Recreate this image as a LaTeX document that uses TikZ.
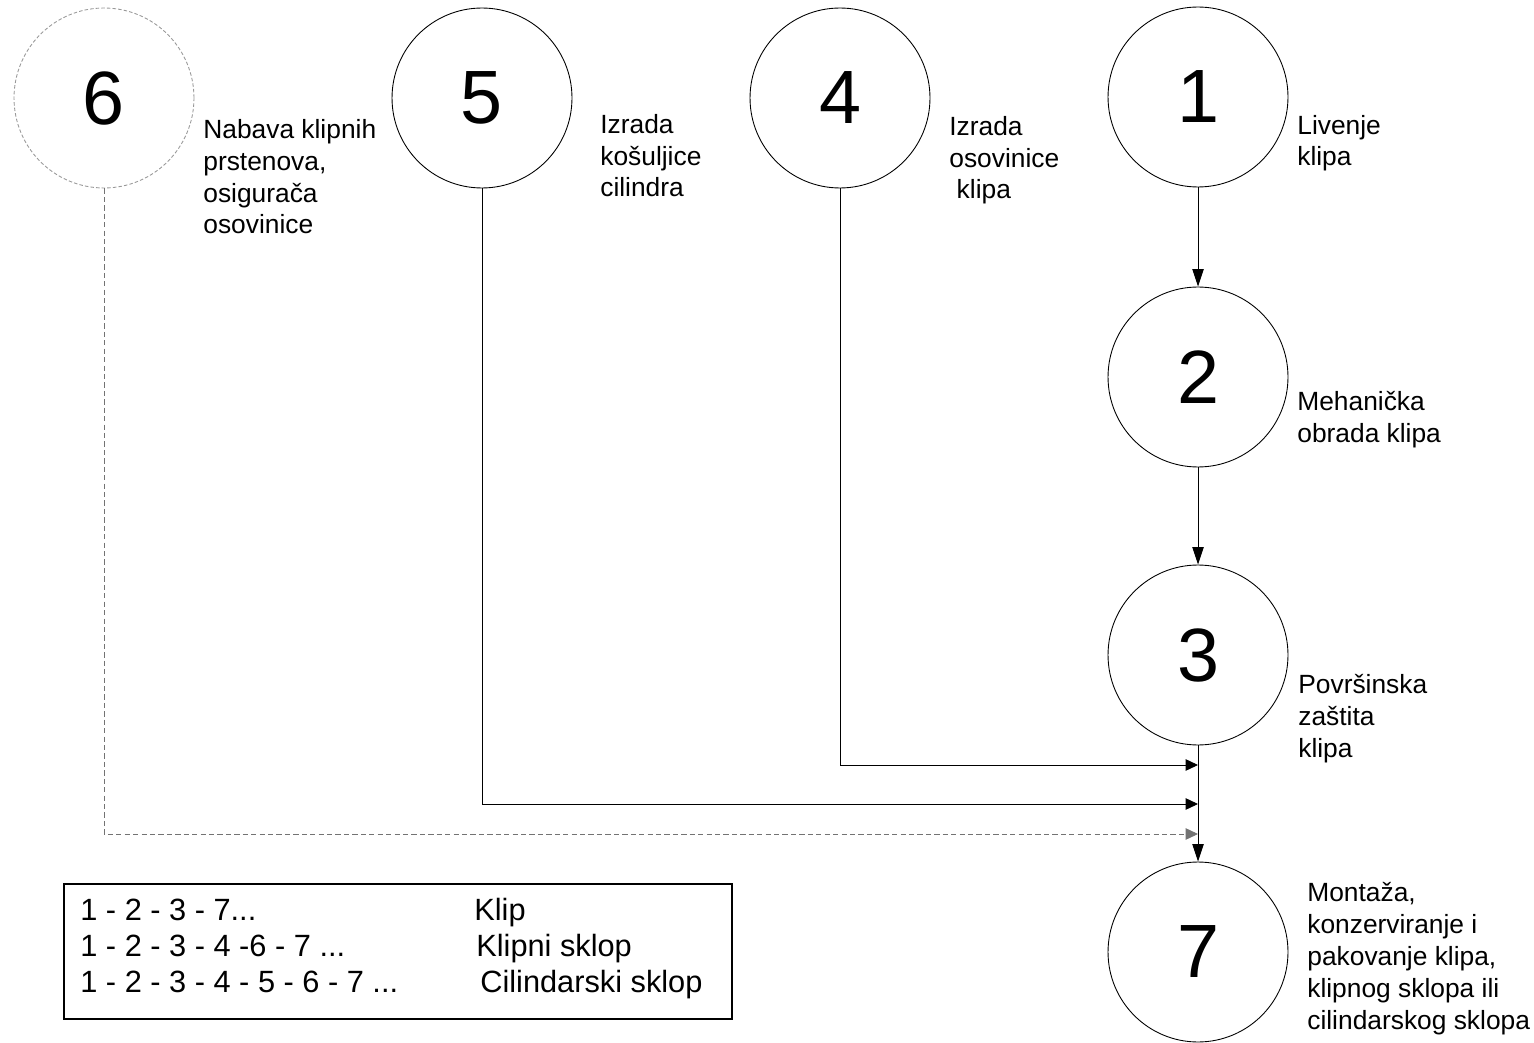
\documentclass[tikz,border=0pt]{standalone}
\usepackage{fontspec}
\setmainfont{Liberation Sans}
\usetikzlibrary{arrows.meta}
\begin{document}
\begin{tikzpicture}[x=0.02cm,y=-0.02cm,
  proc/.style={circle,draw,line width=0.5pt,minimum size=3.6cm,inner sep=0pt,font=\fontsize{43}{43}\selectfont},
  procdash/.style={proc,draw=gray!80,dash pattern=on 2pt off 1.2pt},
  lbl/.style={anchor=base west,align=left,inner sep=0pt,font=\fontsize{15}{18.2}\selectfont},
  legtxt/.style={anchor=base west,inner sep=0pt,font=\fontsize{17.5}{20}\selectfont},
  conn/.style={line width=0.5pt},
  arrv/.style={conn,-{Triangle[length=10pt,width=6.5pt]}},
  arrh/.style={conn,-{Triangle[length=7pt,width=6.5pt]}},
  arrd/.style={arrh,draw=gray!90!black,dash pattern=on 3pt off 1.8pt}]
\useasboundingbox (0,0) rectangle (1534,1043);

% process circles
\node[proc] (n1) at (1198,97) {1};
\node[proc] (n2) at (1198,377) {2};
\node[proc] (n3) at (1198,655) {3};
\node[proc] (n7) at (1198,952) {7};
\node[proc] (n4) at (840,98) {4};
\node[proc] (n5) at (482,98) {5};
\node[procdash] (n6) at (104,98) {6};

% labels (anchored at the baseline of their last line)
\node[lbl] (l1) at (1297,166) {Livenje\\klipa};
\node[lbl] (l2) at (1297,442) {Mehanička\\obrada klipa};
\node[lbl] (l3) at (1298,757) {Površinska\\zaštita\\klipa};
\node[lbl] (l7) at (1307,1029) {Montaža,\\konzerviranje i\\pakovanje klipa,\\klipnog sklopa ili\\cilindarskog sklopa};
\node[lbl] (l4) at (949,199) {Izrada\\osovinice\\\hspace*{0.28em}klipa};
\node[lbl] (l5) at (600,197) {Izrada\\košuljice\\cilindra};
\node[lbl] (l6) at (203,234) {Nabava klipnih\\prstenova,\\osigurača\\osovinice};

% junction points on the main vertical line
\coordinate (j4) at (1198,765);
\coordinate (j5) at (1198,804);
\coordinate (j6) at (1198,834);

% connectors
\draw[arrv] (n1) -- (n2);
\draw[arrv] (n2) -- (n3);
\draw[arrv] (n3) -- (n7);
\draw[arrh] (n4.south) |- (j4);
\draw[arrh] (n5.south) |- (j5);
\draw[arrd] (n6.south) |- (j6);

% legend
\node[draw,line width=1pt,rectangle,inner sep=0pt,anchor=north west,
      minimum width=13.36cm,minimum height=2.7cm] (legend) at (63,883) {};
\node[legtxt] (k1) at (80,920) {1 - 2 - 3 - 7...};
\node[legtxt] (k2) at (80,956) {1 - 2 - 3 - 4 -6 - 7 ...};
\node[legtxt] (k3) at (80,992) {1 - 2 - 3 - 4 - 5 - 6 - 7 ...};
\node[legtxt] (t1) at (474,920) {Klip};
\node[legtxt] (t2) at (476,956) {Klipni sklop};
\node[legtxt] (t3) at (480,992) {Cilindarski sklop};
\end{tikzpicture}
\end{document}
